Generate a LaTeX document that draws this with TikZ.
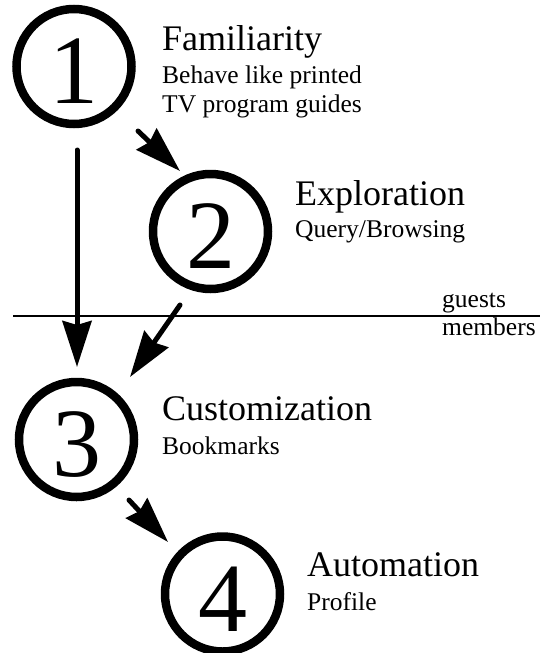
\documentclass[tikz,border=0pt]{standalone}
\usepackage{fontspec}
\setmainfont{Liberation Serif}
\usetikzlibrary{arrows.meta}

\tikzset{
  stage/.style={circle, draw, line width=8.5pt, minimum size=115pt, inner sep=0pt,
                text height=74pt, text depth=0pt, font=\fontsize{98}{98}\selectfont},
  title/.style={anchor=base west, inner sep=0pt, font=\fontsize{36}{36}\selectfont},
  note/.style={anchor=base west, inner sep=0pt, font=\fontsize{25.5}{25.5}\selectfont},
  flow/.style={line width=5pt, line cap=round,
               -{Stealth[length=46pt, width=29pt, inset=4pt]}},
  divider/.style={line width=2pt}
}

\begin{document}
\begin{tikzpicture}[x=1pt, y=-1pt]
  \useasboundingbox (0,0) rectangle (540,653);

  % the four stages
  \node[stage] (c1) at (74,66.5)   {1};
  \node[stage] (c2) at (210.5,231.5) {2};
  \node[stage] (c3) at (76.5,439.5) {3};
  \node[stage] (c4) at (222.5,594)  {4};

  % stage labels
  \node[title] (t1)  at (162,50)  {Familiarity};
  \node[note]  (t1a) at (162,83)  {Behave like printed};
  \node[note]  (t1b) at (162,112) {TV program guides};

  \node[title] (t2)  at (295,205) {Exploration};
  \node[note]  (t2a) at (295,237) {Query/Browsing};

  \node[title] (t3)  at (162,420) {Customization};
  \node[note]  (t3a) at (162,454) {Bookmarks};

  \node[title] (t4)  at (307,576) {Automation};
  \node[note]  (t4a) at (307,610) {Profile};

  % guests / members divide
  \coordinate (dl) at (13,316);
  \coordinate (dr) at (540,316);
  \draw[divider] (dl) -- (dr);
  \node[note] (g) at (442,307) {guests};
  \node[note] (m) at (442,335) {members};

  % arrow end points
  \coordinate (s13) at (77,150);
  \coordinate (e13) at (77,367);
  \coordinate (s12) at (138,131);
  \coordinate (e12) at (180,171);
  \coordinate (s23) at (180,305);
  \coordinate (e23) at (130,377);
  \coordinate (s34) at (129,500);
  \coordinate (e34) at (168,542);

  \draw[flow] (s13) -- (e13);
  \draw[flow] (s12) -- (e12);
  \draw[flow] (s23) -- (e23);
  \draw[flow] (s34) -- (e34);
\end{tikzpicture}
\end{document}
